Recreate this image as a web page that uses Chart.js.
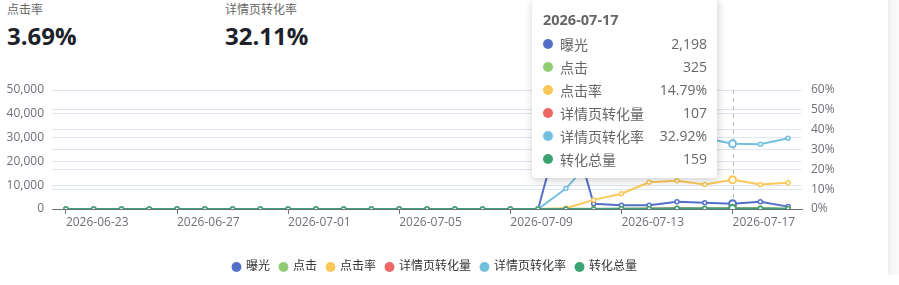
<!DOCTYPE html>
<html>
<head>
<meta charset="utf-8">
<script src="https://cdn.jsdelivr.net/npm/chart.js@4.4.1/dist/chart.umd.min.js"></script>
<style>
    body { margin: 0; background: #fff; font-family: "Open Sans", "Noto Sans CJK SC", sans-serif; }
    #wrap { position: relative; width: 899px; height: 285px; overflow: hidden; }
    .kpi { position: absolute; top: 2px; }
    .kpi .t { font-size: 12px; color: #666; line-height: 16px; }
    .kpi .v { font-size: 24px; font-weight: bold; color: #1d2129; line-height: 34px; margin-top: 1px; }
    #box { position: absolute; left: 0; top: 0; width: 888px; height: 285px; }
    #strip { position: absolute; left: 888px; top: 0; width: 11px; height: 275px;
        background: linear-gradient(to right, #efefef, #f8f8f8 40%, #fafafa); }
    #tip { position: absolute; left: 532px; top: -1px; width: 164px; padding: 10px 10px 8px 11px;
        background: #fff; border-radius: 4px; box-shadow: 1px 2px 10px rgba(0, 0, 0, 0.2);
        font-size: 14px; color: #666; display: none; }
    #tip .hd { font-weight: bold; font-size: 14.5px; line-height: 22px; margin-bottom: 1px; }
    #tip .row { display: flex; align-items: center; height: 23px; }
    #tip .dot { width: 10px; height: 10px; border-radius: 5px; margin-right: 7px; }
    #tip .nm { flex: 1; }
</style>
</head>
<body>
<div id="wrap">
    <div class="kpi" style="left:7px"><div class="t">点击率</div><div class="v">3.69%</div></div>
    <div class="kpi" style="left:225px"><div class="t">详情页转化率</div><div class="v">32.11%</div></div>
    <div id="box"><canvas id="ChartTrend" width="888" height="285"></canvas></div>
    <div id="strip"></div>
    <div id="tip"></div>
</div>
<script>

/// DADOS

const datas = [
    '2026-06-23', '2026-06-24', '2026-06-25', '2026-06-26', '2026-06-27', '2026-06-28', '2026-06-29',
    '2026-06-30', '2026-07-01', '2026-07-02', '2026-07-03', '2026-07-04', '2026-07-05', '2026-07-06',
    '2026-07-07', '2026-07-08', '2026-07-09', '2026-07-10', '2026-07-11', '2026-07-12', '2026-07-13',
    '2026-07-14', '2026-07-15', '2026-07-16', '2026-07-17', '2026-07-18', '2026-07-19'
];

const exposicao   = [0,0,0,0,0,0,0,0,0,0,0,0,0,0,0,0,0,0, 43000, 2200, 1540, 1540, 3000, 2600, 2198, 3000, 1000];
const cliques     = [0,0,0,0,0,0,0,0,0,0,0,0,0,0,0,0,0,0, 150, 101, 119, 208, 429, 320, 325, 369, 132];
const taxa_clique = [0,0,0,0,0,0,0,0,0,0,0,0,0,0,0,0,0,0, 0.35, 4.6, 7.7, 13.5, 14.3, 12.3, 14.79, 12.3, 13.2];
const conv_det    = [0,0,0,0,0,0,0,0,0,0,0,0,0,0,0,0,0,0, 15, 26, 42, 79, 172, 115, 107, 121, 47];
const taxa_det    = [0,0,0,0,0,0,0,0,0,0,0,0,0,0,0,0,0,0, 10.3, 26, 35, 38, 40, 35.8, 32.92, 32.7, 35.7];
const conv_total  = [0,0,0,0,0,0,0,0,0,0,0,0,0,0,0,0,0,0, 20, 38, 60, 115, 250, 170, 159, 180, 70];

const series_nomes = ['曝光', '点击', '点击率', '详情页转化量', '详情页转化率', '转化总量'];
const series_dados = [exposicao, cliques, taxa_clique, conv_det, taxa_det, conv_total];
const series_taxa  = [false, false, true, false, true, false];
const cores = ['#5470c6', '#91cc75', '#fac858', '#ee6666', '#73c0de', '#3ba272'];

const dia_ativo = 24;

const fonte = '"Open Sans", "Noto Sans CJK SC", sans-serif';


/// TOOLTIP HTML

function tooltipExterno(context) {
    const el = document.getElementById('tip');
    const tooltip = context.tooltip;
    if (!tooltip.dataPoints || tooltip.opacity === 0) {
        el.style.display = 'none';
        return;
    }
    const pts = tooltip.dataPoints.slice().sort((a, b) => a.datasetIndex - b.datasetIndex);
    let html = '<div class="hd">' + pts[0].label + '</div>';
    pts.forEach(function (p) {
        const i = p.datasetIndex;
        const v = series_taxa[i] ? p.raw.toFixed(2) + '%' : p.raw.toLocaleString('en-US');
        html += '<div class="row"><span class="dot" style="background:' + cores[i] + '"></span>' +
            '<span class="nm">' + series_nomes[i] + '</span><span>' + v + '</span></div>';
    });
    el.innerHTML = html;
    el.style.display = 'block';
}


/// LINHA TRACEJADA

const linhaAtiva = {
    id: 'linhaAtiva',
    beforeDatasetsDraw(chart) {
        const ativos = chart.getActiveElements();
        if (!ativos.length) return;
        const x = Math.round(chart.scales.x.getPixelForValue(ativos[0].index)) + 0.5;
        const ctx = chart.ctx;
        ctx.save();
        ctx.strokeStyle = '#b9bec9';
        ctx.lineWidth = 1;
        ctx.setLineDash([4, 4]);
        ctx.beginPath();
        ctx.moveTo(x, chart.chartArea.top);
        ctx.lineTo(x, chart.chartArea.bottom);
        ctx.stroke();
        ctx.restore();
    }
};


/// GRÁFICO

const trend = document.getElementById('ChartTrend');

const datasets = series_nomes.map(function (nome, i) {
    return {
        label: nome,
        data: series_dados[i],
        yAxisID: series_taxa[i] ? 'y1' : 'y',
        borderColor: cores[i],
        backgroundColor: '#fff',
        pointBackgroundColor: '#fff',
        pointBorderColor: cores[i],
        pointRadius: 2,
        pointBorderWidth: 1.5,
        pointHoverRadius: 3.5,
        pointHoverBorderWidth: 2,
        pointHoverBackgroundColor: '#fff',
        pointHoverBorderColor: cores[i],
        borderWidth: 2,
        tension: 0,
        order: series_nomes.length - 1 - i
    };
});

const chartTrend = new Chart(trend, {
    type: 'line',
    data: {
        labels: datas,
        datasets: datasets
    },
    options: {
        responsive: false,
        animation: false,
        events: [],
        layout: {
            padding: { top: 90, bottom: 2, right: 18 }
        },
        scales: {
            x: {
                offset: true,
                grid: {
                    display: true,
                    drawOnChartArea: false,
                    drawTicks: true,
                    tickLength: 5,
                    color: '#6e7079'
                },
                border: { display: true, color: '#6e7079', width: 1 },
                ticks: {
                    autoSkip: false,
                    maxRotation: 0,
                    align: 'start',
                    padding: 1,
                    color: '#6e7079',
                    font: { family: fonte, size: 12 },
                    callback: function (val, idx) {
                        return idx % 4 === 0 ? this.getLabelForValue(val) : null;
                    }
                },
                afterFit: function (scale) { scale.height = 42; }
            },
            y: {
                position: 'left',
                min: 0,
                max: 50000,
                grid: { color: '#e0e6f1', drawTicks: false },
                border: { display: false },
                ticks: {
                    stepSize: 10000,
                    padding: 8,
                    color: '#6e7079',
                    font: { family: fonte, size: 12 },
                    callback: function (v) { return v.toLocaleString('en-US'); }
                },
                afterFit: function (scale) { scale.width = 52; }
            },
            y1: {
                position: 'right',
                min: 0,
                max: 60,
                grid: { color: '#e0e6f1', drawTicks: false },
                border: { display: false },
                ticks: {
                    stepSize: 10,
                    padding: 9,
                    color: '#6e7079',
                    font: { family: fonte, size: 12 },
                    callback: function (v) { return v + '%'; }
                },
                afterFit: function (scale) { scale.width = 68; }
            }
        },
        plugins: {
            legend: {
                display: true,
                position: 'bottom',
                labels: {
                    usePointStyle: true,
                    pointStyle: 'circle',
                    boxWidth: 7,
                    boxHeight: 7,
                    padding: 10,
                    color: '#333',
                    font: { family: fonte, size: 12 },
                    sort: function (a, b) { return a.datasetIndex - b.datasetIndex; },
                    generateLabels: function (chart) {
                        return chart.data.datasets.map(function (ds, i) {
                            return {
                                text: ds.label,
                                fillStyle: cores[i],
                                strokeStyle: cores[i],
                                lineWidth: 0,
                                pointStyle: 'circle',
                                fontColor: '#333',
                                datasetIndex: i,
                                hidden: false
                            };
                        });
                    }
                }
            },
            tooltip: {
                enabled: false,
                mode: 'index',
                intersect: false,
                external: tooltipExterno
            }
        }
    },
    plugins: [linhaAtiva]
});

const ativos = series_nomes.map(function (n, i) {
    return { datasetIndex: i, index: dia_ativo };
});
chartTrend.setActiveElements(ativos);
chartTrend.tooltip.setActiveElements(ativos, { x: 733, y: 100 });
chartTrend.update();

</script>
</body>
</html>
